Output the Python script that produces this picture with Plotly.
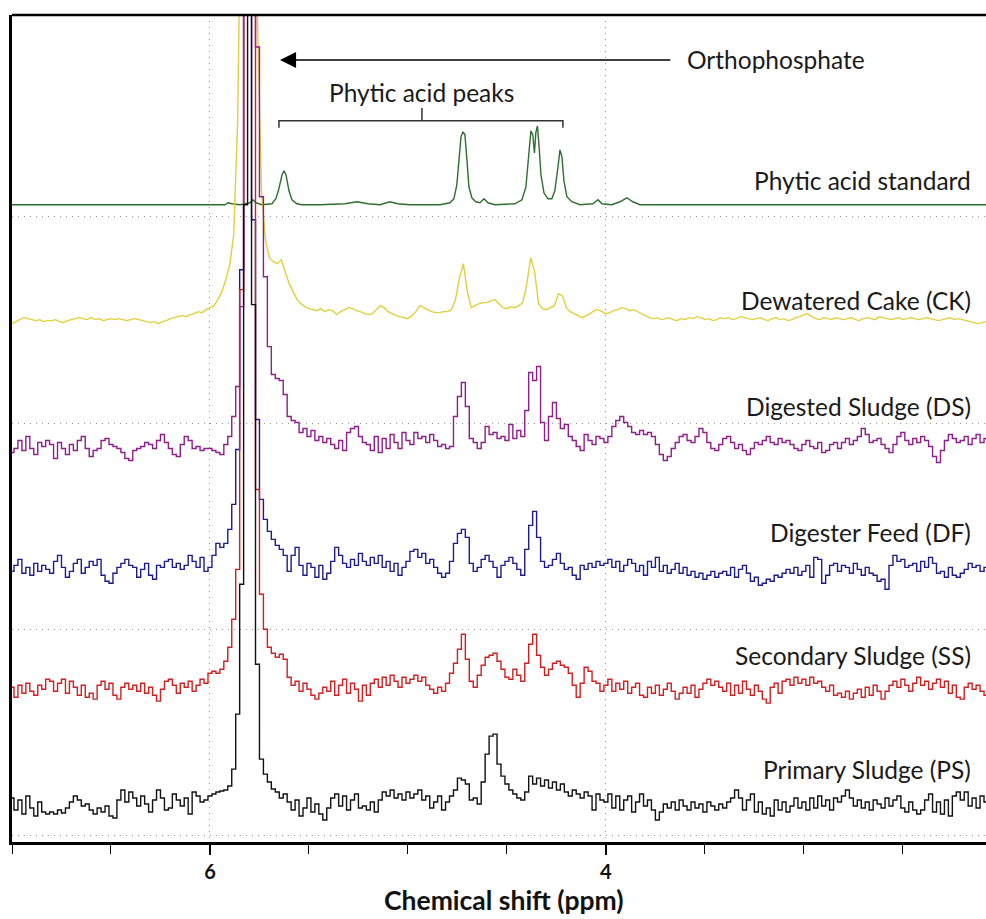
import numpy as np
import plotly.graph_objects as go

# 31P NMR spectra, sampled every 0.02 ppm from 7.00 down to 2.08 ppm.
# Intensities are relative to each spectrum's own baseline (arbitrary units).
ppm = np.round(7.00 - 0.02 * np.arange(247), 2)

primary_sludge = [
    6, -6, 4, -10, 8, -4, -12, 2, -8, -10,
    -8, -10, -6, -9, -4, 2, 8, 4, -2, 0,
    -6, -10, -4, -8, -2, -12, -14, 4, 14, 2,
    12, 6, -2, 8, 0, -8, 4, 14, 6, -6,
    -4, 10, 4, -2, 6, -10, 12, 8, 2, 4,
    8, 10, 12, 13, 14, 18, 35, 90, 220, 600,
    1000, 500, 140, 45, 30, 22, 15, 12, 6, 10,
    2, -6, 4, -12, -4, 6, -8, 0, -10, -16,
    -4, 6, 10, -2, 8, -6, 4, 10, -4, -2,
    -6, 2, -8, 4, 12, 8, 14, 6, 10, 4,
    12, 6, 10, 14, 4, 8, -4, 2, 8, -6,
    2, 8, 14, 26, 24, 20, 4, 6, 0, 22,
    50, 68, 70, 40, 28, 20, 14, 10, 6, 4,
    12, 28, 20, 26, 18, 24, 16, 22, 14, 20,
    12, 8, 14, 10, 6, 12, 8, -6, 10, 4,
    2, 10, -4, 8, -6, 4, 8, -8, 2, 10,
    -2, 4, -6, -16, -8, 0, -4, 2, -6, 4,
    -2, -6, 2, -4, 0, -8, 2, -2, -6, 0,
    -4, 2, 6, 14, 6, -6, 4, 10, -8, 2,
    -10, -4, -12, 4, -6, 2, -8, -2, 6, -4,
    2, -6, 6, -4, 8, -2, 4, -6, 6, 2,
    8, 14, 6, -2, 4, -4, 2, -6, 4, 0,
    -4, 6, -2, 4, 8, -4, -8, 2, -6, -10,
    -6, 4, 10, -8, 2, -10, 4, -12, 8, 12,
    4, 12, -2, 6, -4, 8, 2,
]

secondary_sludge = [
    2, -8, 4, -4, 6, -2, -6, 4, 0, 10,
    8, -2, 6, 10, -4, 8, 2, -6, 4, -8,
    -4, -10, 4, 8, 0, 6, -6, -10, 2, 6,
    0, 4, -2, 6, -4, 2, -6, -12, 0, 8,
    10, 4, -4, 6, 2, 8, -2, 4, 10, 6,
    16, 18, 16, 20, 28, 42, 70, 120, 400, 1000,
    1000, 700, 200, 95, 60, 42, 36, 32, 35, 30,
    12, 4, 8, -2, 6, 0, -6, -10, -4, 2,
    -2, 8, -6, 4, 10, -4, 6, 0, -12, 4,
    -6, 6, 10, 2, 12, 4, 14, 8, 2, 12,
    6, 10, 14, 8, 12, 4, 0, -4, 2, -2,
    6, 16, 26, 40, 55, 30, 8, 2, 14, 24,
    32, 34, 36, 28, 20, 12, 10, 20, 14, 8,
    26, 45, 55, 34, 22, 14, 20, 26, 28, 24,
    22, 16, 4, -8, 6, 22, 18, 8, 6, -2,
    4, 10, -2, 6, 0, 8, -4, 2, 6, -6,
    -8, 2, -4, 4, -6, 0, 6, -2, -10, -4,
    2, -4, 4, -8, 0, 6, 10, 4, 8, 2,
    -2, 6, -6, 4, -4, 8, 0, -6, 4, -2,
    -10, -14, 2, 6, -4, 8, 10, 4, 12, 6,
    10, 4, 12, 6, 8, 2, -2, 4, -6, -4,
    -8, -2, -10, -4, 0, -8, 2, -6, 4, -2,
    -10, -2, 4, 8, 2, 10, 4, -2, 6, 12,
    4, 8, 0, 6, 10, 2, 8, -4, 4, -8,
    -10, 2, 6, 0, 4, -2, -6,
]

digester_feed = [
    -2, 4, 10, -4, 2, -6, 6, -2, 4, 0,
    -4, 8, 14, 2, -8, -2, 6, 10, -4, 2,
    8, 4, 10, -6, -12, -14, -4, 2, 6, 10,
    4, 2, -8, 0, 6, -6, -10, 4, 2, 8,
    10, 2, 6, 0, 4, 14, 8, 2, 12, -2,
    2, 14, 26, 22, 26, 40, 65, 120, 300, 900,
    1000, 350, 150, 70, 50, 38, 30, 24, 20, 14,
    -2, 14, 22, 4, -6, 6, 2, -8, 4, -10,
    -4, 8, 22, 14, 6, 2, 10, 4, 16, 8,
    4, 12, 6, 14, 2, 8, -2, 6, -6, 2,
    8, 18, 20, 12, 16, 6, 10, 2, -4, -8,
    -4, 8, 26, 36, 40, 32, 6, -2, 2, 10,
    14, 8, 2, -8, 4, 8, 12, 6, 0, -6,
    20, 44, 58, 32, 8, 2, 4, 10, 16, 6,
    0, 2, -6, -10, 4, 0, 6, 2, 8, 4,
    6, 10, 2, 8, -2, 4, 10, 6, -2, 4,
    -6, 8, 2, 12, -2, 4, -4, 0, 6, -4,
    2, -6, -2, -8, -4, -10, -6, -2, -8, -4,
    -2, -6, 2, -8, 0, 4, -4, -12, -8, -16,
    -14, -10, -12, -6, -8, -4, 0, -4, 2, -6,
    -2, 4, -8, 12, 10, -14, -6, 4, 6, -2,
    4, 2, -4, 6, 0, -6, 2, -4, -6, -12,
    -10, -20, 4, 14, 8, 10, 2, 4, 6, -2,
    8, 2, 12, 6, -4, -2, -8, 2, -6, -8,
    -4, 0, 6, 2, 4, -2, 2,
]

digested_sludge = [
    -6, -2, 6, -4, 10, -2, -8, 4, 0, 6,
    2, -12, 4, -2, -8, 2, -4, 6, 10, -2,
    -10, -4, -2, 6, 8, 2, 0, -2, -6, -12,
    -14, -4, -2, 0, 4, 2, -2, 6, 12, 4,
    -2, -8, -10, 2, 10, 6, -2, 0, -4, -2,
    -2, -4, -6, -8, 2, 10, 30, 60, 140, 500,
    1000, 800, 400, 250, 170, 100, 72, 68, 66, 52,
    30, 26, 24, 14, 18, 10, 16, 6, 10, 4,
    8, 2, -2, 6, -4, 14, 18, 20, 10, 4,
    2, -4, 10, -6, 8, -2, 12, 4, -2, 14,
    6, 2, 14, 8, 10, 4, 12, 6, 0, 2,
    -2, 0, 30, 50, 64, 40, 8, 4, -2, 4,
    20, 12, 14, 8, 10, 6, 22, 8, 16, 10,
    36, 74, 66, 80, 24, 6, 30, 44, 28, 18,
    22, 10, 6, 0, -4, 12, 6, 2, 10, 8,
    4, 10, 20, 26, 30, 24, 20, 14, 12, 16,
    12, 14, 10, 2, -8, -14, -10, -2, 4, 10,
    12, 6, 4, 10, 18, 14, 4, -2, -4, 2,
    8, 10, 4, -2, 2, -4, -8, -2, 4, 2,
    6, 10, 4, 2, 8, 4, 6, 2, -2, -4,
    2, 6, 0, -2, 4, -6, -4, 2, 4, -2,
    4, 8, 2, 6, 10, 18, 12, 4, 6, 8,
    2, -2, -6, 2, 10, 14, 6, 2, 8, 4,
    10, 6, 0, -10, -16, -4, 6, 12, 8, 4,
    6, 10, 2, 8, 12, 4, 8,
]

dewatered_cake = [
    -4, -2, 0, 2, 1, 0, -1, 0, -2, -1,
    -1, 0, -2, -3, -1, 0, 1, 2, 1, 0,
    2, 0, 1, -1, 0, 1, 0, 1, 0, -1,
    0, 1, 0, -1, -2, -3, -2, -4, -2, -1,
    1, 2, 3, 4, 3, 5, 6, 8, 7, 10,
    12, 14, 20, 28, 40, 55, 85, 200, 500, 900,
    1000, 800, 300, 130, 80, 62, 58, 56, 60, 48,
    36, 28, 20, 16, 13, 11, 10, 9, 11, 8,
    10, 9, 5, 8, 10, 12, 11, 9, 8, 6,
    5, 6, 10, 14, 12, 8, 6, 4, 3, 2,
    1, 4, 8, 14, 12, 10, 8, 7, 7, 8,
    8, 10, 20, 42, 56, 28, 12, 14, 16, 17,
    17, 19, 20, 16, 12, 11, 13, 12, 14, 17,
    35, 62, 48, 16, 11, 10, 12, 14, 26, 24,
    12, 8, 6, 4, 2, 4, 6, 9, 10, 8,
    6, 7, 9, 10, 12, 11, 9, 10, 8, 6,
    4, 2, 1, 2, 0, 1, 2, 0, -1, 1,
    0, 2, 1, 3, 2, 0, 1, -1, 0, 2,
    1, 2, 0, 1, 3, 2, 1, 0, 1, 2,
    0, -1, 1, 2, 0, 1, -1, 0, 2, 3,
    5, 6, 3, 1, 0, 2, 1, 0, 2, 1,
    0, 1, 2, 0, -1, 1, 2, 1, 0, 3,
    2, 1, 0, 1, 2, 0, 1, 2, 1, 0,
    1, 2, 1, 0, -1, 0, 1, 2, 0, 1,
    0, -1, -2, -3, -4, -3, -2,
]

# The phytic acid standard is clean, so it is listed point by point.
phytic_ppm = [
    7.00, 5.924, 5.909, 5.889, 5.848, 5.798, 5.783, 5.768, 5.737, 5.687,
    5.667, 5.652, 5.636, 5.626, 5.616, 5.601, 5.586, 5.561, 5.535, 5.444,
    5.318, 5.258, 5.202, 5.141, 5.091, 5.051, 4.990, 4.838, 4.788, 4.768,
    4.753, 4.742, 4.732, 4.722, 4.712, 4.702, 4.692, 4.677, 4.657, 4.636,
    4.616, 4.596, 4.561, 4.460, 4.424, 4.404, 4.389, 4.379, 4.369, 4.361,
    4.354, 4.346, 4.338, 4.328, 4.313, 4.293, 4.273, 4.258, 4.242, 4.232,
    4.222, 4.212, 4.197, 4.172, 4.131, 4.066, 4.040, 4.020, 3.970, 3.929,
    3.894, 3.864, 3.828, 2.08,
]
phytic_standard = [
    0, 0, 2, 1, 0, 2, 5, 2, 0, 1,
    6, 16, 30, 34, 30, 14, 5, 1, 0, 0,
    1, 3, 1, 0, 3, 1, 0, 0, 2, 6,
    20, 45, 68, 73, 70, 45, 18, 7, 3, 2,
    6, 2, 0, 1, 5, 18, 50, 74, 70, 52,
    72, 79, 60, 30, 12, 6, 6, 14, 38, 55,
    48, 24, 8, 3, 0, 1, 5, 1, 0, 3,
    7, 3, 0, 0,
]

for arr in (primary_sludge, secondary_sludge, digester_feed,
            digested_sludge, dewatered_cake):
    assert len(arr) == len(ppm), len(arr)
assert len(phytic_ppm) == len(phytic_standard)

names = ["Primary Sludge (PS)", "Secondary Sludge (SS)", "Digester Feed (DF)",
         "Digested Sludge (DS)", "Dewatered Cake (CK)", "Phytic acid standard"]
offsets = [38, 153, 273, 396, 523, 638]          # vertical stacking of spectra
label_y = [73, 187, 310, 436, 542, 662]          # label heights on the stack
colors = ["#111111", "#d21f1f", "#1b1b8f", "#8e1f8a", "#e2cf3e", "#2f6e31"]
shapes_ = ["hvh", "hvh", "hvh", "hvh", "linear", "linear"]

spectra = [
    (ppm, primary_sludge),
    (ppm, secondary_sludge),
    (ppm, digester_feed),
    (ppm, digested_sludge),
    (ppm, dewatered_cake),
    (phytic_ppm, phytic_standard),
]

FONT = "Lato"
fig = go.Figure()

draw_order = [5, 4, 3, 2, 1, 0]
for k in draw_order:
    xs, ys = spectra[k]
    fig.add_trace(go.Scatter(
        x=list(xs), y=[offsets[k] + v for v in ys],
        mode="lines", name=names[k],
        line=dict(color=colors[k], width=1.4, shape=shapes_[k]),
        hoverinfo="skip", showlegend=False,
    ))

annotations = []
for k in range(6):
    annotations.append(dict(
        x=2.146, y=label_y[k], xref="x", yref="y",
        text=names[k], showarrow=False, xanchor="right", yanchor="middle",
        font=dict(family=FONT, size=24.5, color="#1a1a1a"),
    ))

# Orthophosphate pointer
annotations.append(dict(
    x=5.646, y=783, ax=3.667, ay=783, xref="x", yref="y", axref="x", ayref="y",
    text="", showarrow=True, arrowhead=2, arrowsize=2.0, arrowwidth=1.6,
    arrowcolor="#000000",
))
annotations.append(dict(
    x=3.601, y=783, xref="x", yref="y", text="Orthophosphate", showarrow=False,
    xanchor="left", yanchor="middle",
    font=dict(family=FONT, size=24.5, color="#1a1a1a"),
))
annotations.append(dict(
    x=4.934, y=750, xref="x", yref="y", text="Phytic acid peaks", showarrow=False,
    xanchor="center", yanchor="middle",
    font=dict(family=FONT, size=24.5, color="#1a1a1a"),
))
annotations.append(dict(
    x=0.505, y=-0.0705, xref="paper", yref="paper",
    text="<b>Chemical shift (ppm)</b>", showarrow=False,
    xanchor="center", yanchor="middle",
    font=dict(family=FONT, size=26.5, color="#111111"),
))

shapes = [
    # bracket over the phytic acid peaks
    dict(type="path", xref="x", yref="y",
         path="M 5.6515,715 L 5.6515,722 L 4.2172,722 L 4.2172,715 "
              "M 4.9293,722 L 4.9293,735",
         line=dict(color="#333333", width=1.5)),
    # top frame line
    dict(type="line", xref="paper", yref="paper", x0=0, x1=1, y0=1, y1=1,
         line=dict(color="#000000", width=2.5)),
]

fig.update_layout(
    width=986, height=919,
    margin=dict(l=12, r=0, t=15, b=77),
    plot_bgcolor="white", paper_bgcolor="white",
    annotations=annotations, shapes=shapes,
    xaxis=dict(
        range=[7.0, 2.08], autorange=False,
        tick0=0, dtick=2, ticks="outside", ticklen=10, tickwidth=1.6,
        tickcolor="#000000",
        tickfont=dict(family=FONT, size=20, color="#111111", weight="bold"),
        showline=True, linecolor="#000000", linewidth=2.5,
        showgrid=True, gridcolor="#9a9a9a", gridwidth=1, griddash="1px,5px",
        minor=dict(dtick=0.5, tick0=0, ticks="outside", ticklen=9,
                   tickwidth=1.4, tickcolor="#000000", showgrid=False),
        zeroline=False,
    ),
    yaxis=dict(
        range=[0, 828], autorange=False,
        tickmode="array", tickvals=[7, 213, 419, 626],
        showticklabels=False, ticks="",
        showline=True, linecolor="#000000", linewidth=3,
        showgrid=True, gridcolor="#9a9a9a", gridwidth=1, griddash="1px,5px",
        zeroline=False,
    ),
)

fig.write_html("out.html")
